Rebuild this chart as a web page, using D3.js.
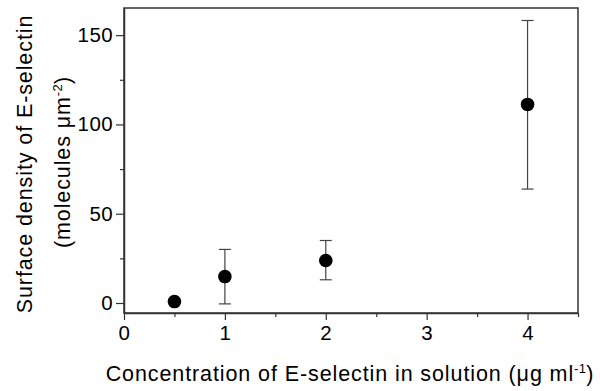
<!DOCTYPE html>
<html>
<head>
<meta charset="utf-8">
<script src="https://cdn.jsdelivr.net/npm/d3@7"></script>
<style>
	body { margin: 0; background: #fff; }
	text { font-family: "Liberation Sans", Arial, sans-serif; fill: #000; }
</style>
</head>
<body>
<div id="chart"></div>
<script>
// concentration (ug/ml) vs surface density (molecules um^-2)
var conc = [0.5, 1, 2, 4];
var density = [0.8, 14.8, 23.8, 111.2];
var errLow = [0.8, 15.3, 10.8, 47.4];
var errHigh = [0.8, 15.2, 11.2, 47.0];
var xTicks = [0, 1, 2, 3, 4];
var xMinor = [0.5, 1.5, 2.5, 3.5, 4.5];
var yTicks = [0, 50, 100, 150];
var yMinor = [25, 75, 125];

var width = 600, height = 391;
var margin = {left: 124, top: 8, right: 22, bottom: 78};

var svg = d3.select("#chart").append("svg")
	.attr("width", width)
	.attr("height", height);

var x = d3.scaleLinear()
	.domain([0, 4.5])
	.range([margin.left, width - margin.right]);
var y = d3.scaleLinear()
	.domain([-5.6, 165.2])
	.range([height - margin.bottom, margin.top]);

var axisColor = "#333";

// frame
svg.append("rect")
	.attr("x", x(0))
	.attr("y", y(165.2))
	.attr("width", x(4.5) - x(0))
	.attr("height", y(-5.6) - y(165.2))
	.attr("fill", "none")
	.attr("stroke", axisColor)
	.attr("stroke-width", 1.5);

// x axis: major + minor ticks
var xAxis = svg.append("g")
	.attr("transform", "translate(0," + y(-5.6) + ")")
	.call(d3.axisBottom(x).tickValues(xTicks).tickSize(7).tickSizeOuter(0).tickFormat(d3.format("d")));
svg.append("g")
	.attr("transform", "translate(0," + y(-5.6) + ")")
	.call(d3.axisBottom(x).tickValues(xMinor).tickSize(4).tickSizeOuter(0).tickFormat(""))
	.select(".domain").remove();

// y axis
var yAxis = svg.append("g")
	.attr("transform", "translate(" + x(0) + ",0)")
	.call(d3.axisLeft(y).tickValues(yTicks).tickSize(8).tickSizeOuter(0).tickPadding(3));
svg.append("g")
	.attr("transform", "translate(" + x(0) + ",0)")
	.call(d3.axisLeft(y).tickValues(yMinor).tickSize(4).tickSizeOuter(0).tickFormat(""))
	.select(".domain").remove();

svg.selectAll(".domain").attr("stroke", axisColor).attr("stroke-width", 1.5);
svg.selectAll(".tick line").attr("stroke", axisColor).attr("stroke-width", 1.2);
svg.selectAll(".tick text")
	.attr("font-family", "'Liberation Sans', Arial, sans-serif")
	.attr("font-size", 20.5)
	.attr("letter-spacing", 0.4)
	.attr("fill", "#000");
xAxis.selectAll(".tick text").attr("dy", 0).attr("y", 26.7);

// error bars
var pts = conc.map(function(c, i) {
	return {x: c, y: density[i], lo: density[i] - errLow[i], hi: density[i] + errHigh[i]};
});
var bars = svg.append("g").attr("class", "errorbars")
	.selectAll("g")
	.data(pts.filter(function(d) { return d.x > 0.5; }))
	.enter().append("g")
	.attr("stroke", "#444")
	.attr("stroke-width", 1.2);
bars.append("line")
	.attr("x1", function(d) { return x(d.x); })
	.attr("x2", function(d) { return x(d.x); })
	.attr("y1", function(d) { return y(d.lo); })
	.attr("y2", function(d) { return y(d.hi); });
bars.append("line")
	.attr("x1", function(d) { return x(d.x) - 6; })
	.attr("x2", function(d) { return x(d.x) + 6; })
	.attr("y1", function(d) { return y(d.lo); })
	.attr("y2", function(d) { return y(d.lo); });
bars.append("line")
	.attr("x1", function(d) { return x(d.x) - 6; })
	.attr("x2", function(d) { return x(d.x) + 6; })
	.attr("y1", function(d) { return y(d.hi); })
	.attr("y2", function(d) { return y(d.hi); });

// points
svg.append("g").selectAll("circle")
	.data(pts)
	.enter().append("circle")
	.attr("cx", function(d) { return x(d.x); })
	.attr("cy", function(d) { return y(d.y); })
	.attr("r", 6.8)
	.attr("fill", "#000");

// axis titles
var xt = svg.append("text")
	.attr("x", 350)
	.attr("y", 381)
	.attr("text-anchor", "middle")
	.attr("font-size", 21.5)
	.attr("letter-spacing", 0.9);
xt.append("tspan").text("Concentration of E-selectin in solution (\u03bcg ml");
xt.append("tspan").attr("font-size", 13).attr("dy", -8).attr("letter-spacing", 0.3).text("-1");
xt.append("tspan").attr("dy", 8).text(")");

var yt = svg.append("text")
	.attr("transform", "translate(32," + 164 + ") rotate(-90)")
	.attr("text-anchor", "middle")
	.attr("font-size", 21.5)
	.attr("letter-spacing", 0.9)
	.text("Surface density of E-selectin");
var yt2 = svg.append("text")
	.attr("transform", "translate(69.5," + 162 + ") rotate(-90)")
	.attr("text-anchor", "middle")
	.attr("font-size", 21.5)
	.attr("letter-spacing", 0.9);
yt2.append("tspan").text("(molecules \u03bcm");
yt2.append("tspan").attr("font-size", 13).attr("dy", -8).attr("letter-spacing", 0.3).text("-2");
yt2.append("tspan").attr("dy", 8).text(")");
</script>
</body>
</html>
